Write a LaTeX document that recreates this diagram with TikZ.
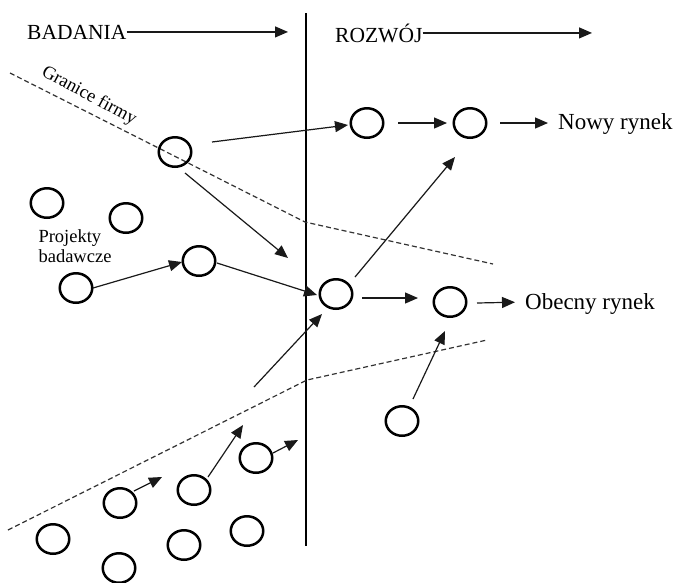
\documentclass[tikz,border=0pt]{standalone}
\usepackage{fontspec}
\setmainfont{Liberation Serif}
\usetikzlibrary{arrows.meta,shapes.geometric,calc}

\tikzset{
  proj/.style={ellipse, draw=black, line width=2.5pt, minimum width=32.5pt,
    minimum height=29.5pt, inner sep=0pt},
  arr/.style={draw=black!90, line width=1.2pt, -{Triangle[length=13pt,width=11pt]}},
  border/.style={draw=black!80, line width=1.2pt, dash pattern=on 5pt off 3pt},
  bigtxt/.style={font=\fontsize{21.5}{24}\selectfont, inner sep=0pt},
  mkttxt/.style={font=\fontsize{23}{26}\selectfont, inner sep=0pt},
  smalltxt/.style={font=\fontsize{18.5}{20.5}\selectfont, inner sep=0pt}
}

\begin{document}
\begin{tikzpicture}[x=1pt,y=-1pt]
\useasboundingbox (0,0) rectangle (677,582);

% stage headings
\node[bigtxt, anchor=base west] (bad) at (27,39) {BADANIA};
\node[bigtxt, anchor=base west] (roz) at (335,42) {ROZWÓJ};
\coordinate (badEnd) at (288,33);
\coordinate (rozEnd) at (592,35);
\draw[arr] (bad.east) -- (bad.east -| badEnd);
\draw[arr] (roz.east) -- (roz.east -| rozEnd);

% divider between research and development
\draw[line width=1.2pt] (306,13) -- (306,546);

% company boundaries
\draw[border] (10,73) -- (305,222) -- (493,264);
\draw[border] (8,530) -- (307,380) -- (487,340);
\node[smalltxt, rotate=-28] (gran) at (89,96) {Granice firmy};

% projects
\node[proj] (A) at (175,152) {};
\node[proj] (B) at (367,123) {};
\node[proj] (C) at (470,123) {};
\node[proj] (D) at (47,203) {};
\node[proj] (E) at (126,218) {};
\node[proj] (F) at (76,288) {};
\node[proj] (G) at (199,261) {};
\node[proj] (H) at (336,294) {};
\node[proj] (I) at (450,302) {};
\node[proj] (J) at (402,421) {};
\node[proj] (K) at (53,539) {};
\node[proj] (L) at (120,503) {};
\node[proj] (M) at (194,490) {};
\node[proj] (N) at (256,458) {};
\node[proj] (O) at (119,568) {};
\node[proj] (P) at (184,545) {};
\node[proj] (Q) at (247,531) {};

% labels
\node[smalltxt, align=left] (pb) at (75,246) {Projekty\\badawcze};
\node[mkttxt, anchor=base west] (nowy) at (558,129) {Nowy rynek};
\node[mkttxt, anchor=base west] (obec) at (525,309) {Obecny rynek};

% free ends
\coordinate (aEnd) at (288,258);
\coordinate (hStart) at (254,387);
\coordinate (lEnd) at (162,477);
\coordinate (mEnd) at (243,425);
\coordinate (nEnd) at (298,440);

% flows
\draw[arr] ($(A)+(37,-10)$) -- ($(B)+(-19,2)$);
\draw[arr] ($(B)+(31,0)$) -- ($(C)+(-23,0)$);
\draw[arr, shorten >=10pt] ($(C)+(30,0)$) -- (C -| nowy.west);
\draw[arr] ($(A)+(10,21)$) -- (aEnd);
\draw[arr] ($(F)+(17,0)$) -- ($(G)+(-17,1)$);
\draw[arr] ($(G)+(18,2)$) -- ($(H)+(-19,1)$);
\draw[arr] (hStart) -- ($(H)+(-14,20)$);
\draw[arr] ($(H)+(19,-17)$) -- ($(C)+(-15,34)$);
\draw[arr] ($(H)+(26,4)$) -- ($(I)+(-32,-4)$);
\draw[arr, shorten >=10pt] ($(I)+(27,1)$) -- (I -| obec.west);
\draw[arr] ($(J)+(11,-22)$) -- ($(I)+(-5,29)$);
\draw[arr] ($(L)+(14,-12)$) -- (lEnd);
\draw[arr] ($(M)+(14,-13)$) -- (mEnd);
\draw[arr] ($(N)+(17,-5)$) -- (nEnd);
\end{tikzpicture}
\end{document}
